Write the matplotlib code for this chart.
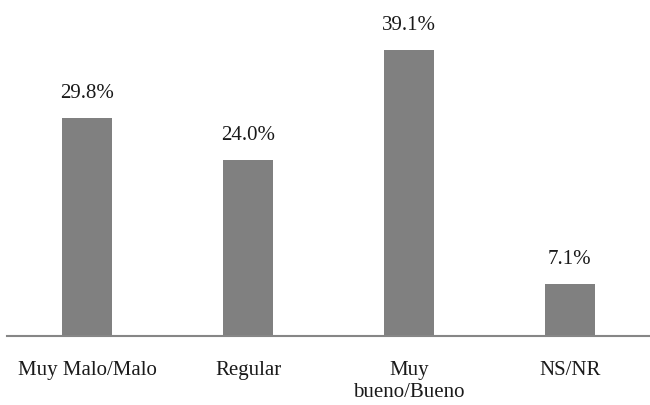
import matplotlib
matplotlib.use('Agg')
import matplotlib.pyplot as plt

categories = ['Muy Malo/Malo', 'Regular', 'Muy\nbueno/Bueno', 'NS/NR']
values = [29.8, 24.0, 39.1, 7.1]

plt.rcParams['font.family'] = ['Liberation Serif', 'DejaVu Serif']

fig = plt.figure(figsize=(6.5, 4.05), dpi=100)
ax = fig.add_axes([7/650, 1-336/405, 1-7/650, 336/405 - 0.017])

x = range(len(categories))
bars = ax.bar(x, values, width=0.31, color='#808080', zorder=2)

for xi, v in zip(x, values):
    ax.annotate(f'{v:.1f}%', (xi, v), xytext=(0, 11), textcoords='offset points',
                ha='center', va='bottom', fontsize=15, color='#1a1a1a')

ax.set_xlim(-0.5, 3.5)
ax.set_ylim(0, 45)
ax.set_xticks(list(x))
ax.set_xticklabels(categories, fontsize=15, color='#1a1a1a', linespacing=1.2)
ax.tick_params(axis='x', length=0, pad=18)
ax.set_yticks([])
for s in ['top', 'right', 'left']:
    ax.spines[s].set_visible(False)
ax.spines['bottom'].set_color('#868686')
ax.spines['bottom'].set_linewidth(1.5)

fig.savefig('out.png', dpi=100)
